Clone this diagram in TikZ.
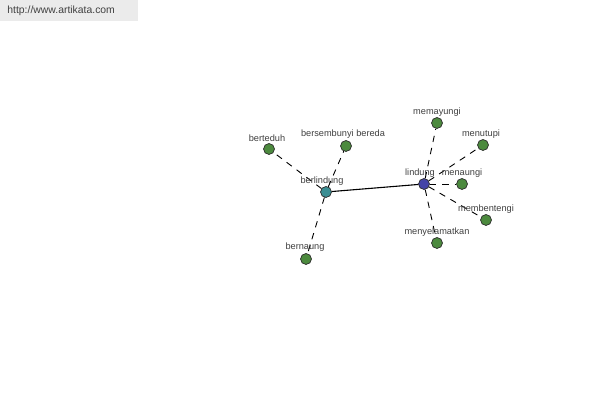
\documentclass[tikz,border=0pt]{standalone}
\usepackage{fontspec}
\setmainfont{Liberation Sans}
\begin{document}
\begin{tikzpicture}[x=0.5pt,y=-0.5pt,
  leaf/.style={circle,draw=black!80,line width=0.3pt,fill=leafgreen,minimum size=5.4pt,inner sep=0pt},
  hubA/.style={leaf,fill=tealc},
  hubB/.style={leaf,fill=bluec},
  lbl/.style={font=\fontsize{4.6}{5}\selectfont,text=black!75,inner sep=0pt},
  dline/.style={draw=black,line width=0.45pt,dash pattern=on 3.2pt off 3pt},
  sline/.style={draw=black,line width=0.55pt}]
\definecolor{leafgreen}{HTML}{4C8A3E}
\definecolor{tealc}{HTML}{3B8E93}
\definecolor{bluec}{HTML}{4444A8}
\useasboundingbox[fill=white] (0,0) rectangle (600,400);
\fill[black!8] (0,0) rectangle (138,21);
\node[font=\fontsize{5.2}{6}\selectfont,text=black!75,anchor=west,inner sep=0pt] (wm) at (7,11) {http://www.artikata.com};
% nodes
\node[hubA] (berlindung) at (326,192) {};
\node[hubB] (lindung) at (424,184) {};
\node[leaf] (berteduh) at (269,149) {};
\node[leaf] (bersembunyi) at (346,146) {};
\node[leaf] (bernaung) at (306,259) {};
\node[leaf] (memayungi) at (437,123) {};
\node[leaf] (menutupi) at (483,145) {};
\node[leaf] (menaungi) at (462,184) {};
\node[leaf] (membentengi) at (486,220) {};
\node[leaf] (menyelamatkan) at (437,243) {};
% edges
\draw[sline] (berlindung) -- (lindung);
\draw[dline] (berlindung) -- (berteduh);
\draw[dline] (berlindung) -- (bersembunyi);
\draw[dline] (berlindung) -- (bernaung);
\draw[dline] (lindung) -- (memayungi);
\draw[dline] (lindung) -- (menutupi);
\draw[dline] (lindung) -- (menaungi);
\draw[dline] (lindung) -- (membentengi);
\draw[dline] (lindung) -- (menyelamatkan);
% labels
\node[lbl] (l1) at (322,181) {berlindung};
\node[lbl] (l2) at (420,173) {lindung};
\node[lbl] (l3) at (267,138) {berteduh};
\node[lbl] (l4) at (343,134) {bersembunyi bereda};
\node[lbl] (l5) at (305,247) {bernaung};
\node[lbl] (l6) at (437,112) {memayungi};
\node[lbl] (l7) at (481,134) {menutupi};
\node[lbl] (l8) at (462,173) {menaungi};
\node[lbl] (l9) at (486,209) {membentengi};
\node[lbl] (l10) at (437,232) {menyelamatkan};
% redraw nodes on top
\node[hubA] at (berlindung) {};
\node[hubB] at (lindung) {};
\foreach \n in {berteduh,bersembunyi,bernaung,memayungi,menutupi,menaungi,membentengi,menyelamatkan}
  \node[leaf] at (\n) {};
\end{tikzpicture}
\end{document}
